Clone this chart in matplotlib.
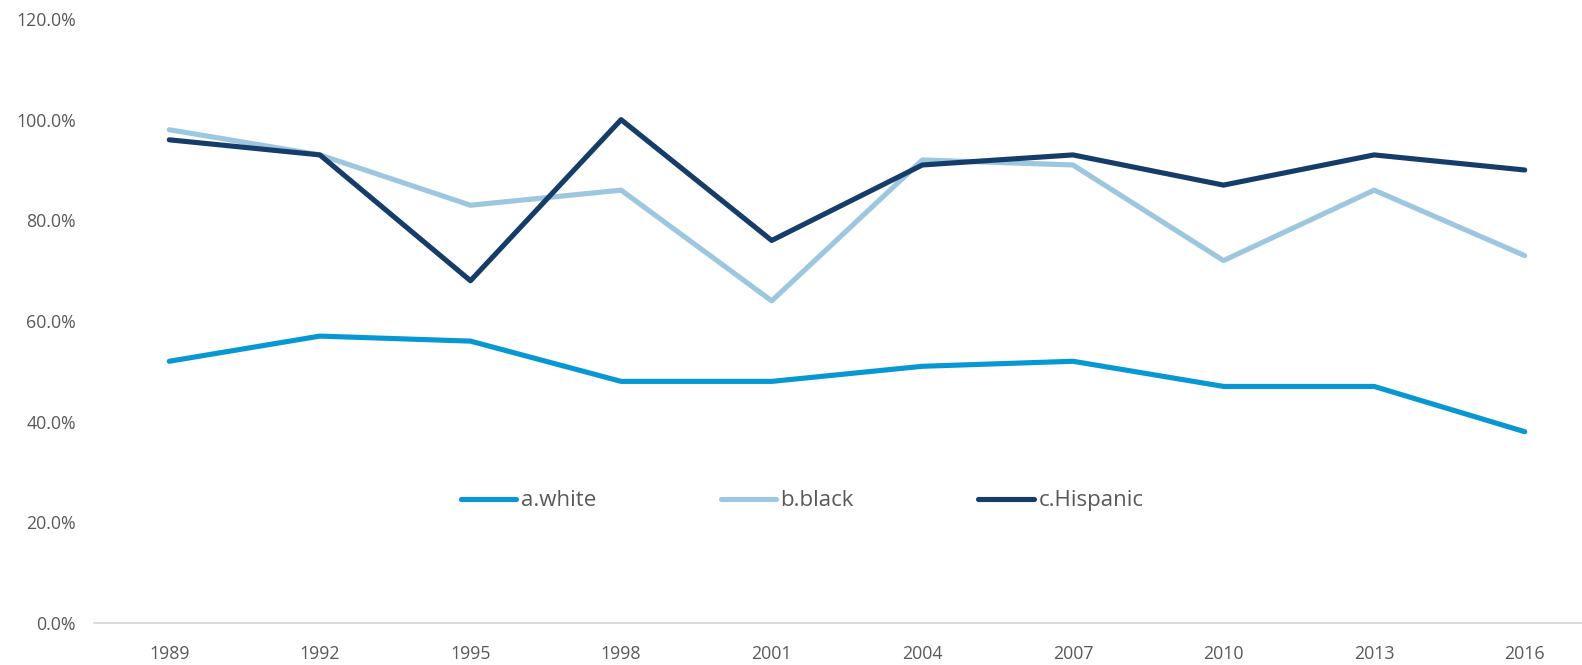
import matplotlib.pyplot as plt
from matplotlib.ticker import PercentFormatter

years = ['1989', '1992', '1995', '1998', '2001', '2004', '2007', '2010', '2013', '2016']
white = [52, 57, 56, 48, 48, 51, 52, 47, 47, 38]
black = [98, 93, 83, 86, 64, 92, 91, 72, 86, 73]
hispanic = [96, 93, 68, 100, 76, 91, 93, 87, 93, 90]

series = [
    ('a.white', white, '#0798D3'),
    ('b.black', black, '#9DC6DF'),
    ('c.Hispanic', hispanic, '#163D69'),
]

plt.rcParams['font.family'] = ['Open Sans', 'DejaVu Sans']
text_color = '#595959'

fig = plt.figure(figsize=(15.82, 6.65), dpi=100)
# the category axis runs a little past the right edge of the figure
ax = fig.add_axes([0.0594, 0.0632, 0.952, 0.9082])

x = range(len(years))
for name, vals, color in series:
    ax.plot(x, vals, color=color, lw=3.7, label=name,
            solid_capstyle='round', solid_joinstyle='round')

ax.set_xlim(-0.5, len(years) - 0.5)
ax.set_ylim(0, 120)
ax.set_yticks(range(0, 121, 20))
ax.yaxis.set_major_formatter(PercentFormatter(decimals=1))
ax.set_xticks(list(x))
ax.set_xticklabels(years)

for side in ['top', 'right', 'left']:
    ax.spines[side].set_visible(False)
ax.spines['bottom'].set_color('#D9D9D9')
ax.spines['bottom'].set_linewidth(1.3)
ax.tick_params(axis='both', length=0, labelsize=12.8, colors=text_color)
ax.tick_params(axis='y', pad=13)
ax.tick_params(axis='x', pad=16)

leg = ax.legend(loc='center left', bbox_to_anchor=(0.2362, 0.202), ncol=3,
                frameon=False, fontsize=16, borderpad=0, handlelength=2.5,
                handletextpad=0.2, columnspacing=5.6)
for t in leg.get_texts():
    t.set_color(text_color)
for h in leg.get_lines():
    h.set_linewidth(3.7)
    h.set_solid_capstyle('round')

fig.savefig('out.png', dpi=100)
